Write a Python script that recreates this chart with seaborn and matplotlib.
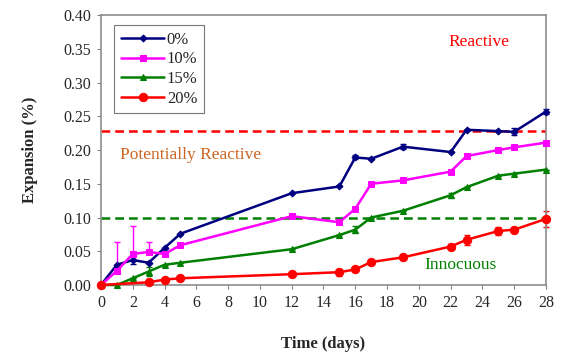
import matplotlib
matplotlib.use("Agg")
import matplotlib.pyplot as plt
import seaborn as sns
import pandas as pd

nan = float("nan")
days = [0, 1, 2, 3, 4, 5, 12, 15, 16, 17, 19, 22, 23, 25, 26, 28]
series_names = ["0%", "10%", "15%", "20%"]
exp_0 = [0.000, 0.030, 0.037, 0.033, 0.055, 0.076, 0.136, 0.146, 0.189, 0.187,
         0.205, 0.197, 0.230, 0.228, 0.227, 0.257]
exp_10 = [0.000, 0.021, 0.046, 0.049, 0.046, 0.059, 0.102, 0.093, 0.113, 0.150,
          0.155, 0.168, 0.191, 0.200, 0.204, 0.211]
exp_15 = [0.000, 0.000, 0.010, 0.020, 0.030, 0.033, 0.053, 0.074, 0.082, 0.100,
          0.110, 0.133, 0.145, 0.162, 0.165, 0.171]
exp_20 = [0.000, nan, nan, 0.004, 0.008, 0.010, 0.016, 0.019, 0.023, 0.034,
          0.041, 0.057, 0.067, 0.080, 0.082, 0.098]
err_0 = [0, 0, 0.006, 0, 0, 0, 0, 0, 0.003, 0, 0.004, 0, 0, 0, 0.005, 0.004]
err_10_up = [0, 0.042, 0.041, 0.015, 0, 0, 0, 0, 0, 0, 0, 0, 0, 0, 0, 0]
err_15 = [0, 0, 0, 0.006, 0, 0, 0, 0, 0.005, 0, 0, 0.004, 0, 0, 0, 0]
err_20 = [0, 0, 0, 0, 0, 0, 0, 0.005, 0, 0, 0.004, 0.004, 0.007, 0.006, 0.004, 0.012]

reactive_limit = 0.228
innocuous_limit = 0.10

colors = {"0%": "#000080", "10%": "#FF00FF", "15%": "#008000", "20%": "#FF0000"}
markers = {"0%": "D", "10%": "s", "15%": "^", "20%": "o"}
sizes = {"0%": 3.5, "10%": 5, "15%": 4, "20%": 6}

df = pd.DataFrame({
    "Time": days * 4,
    "Expansion": exp_0 + exp_10 + exp_15 + exp_20,
    "Mix": [n for n in series_names for _ in days],
}).dropna()

sns.set_style("white")
plt.rcParams["font.family"] = ["Liberation Serif", "DejaVu Serif"]

fig = plt.figure(figsize=(5.66, 3.58), dpi=100)
ax = fig.add_axes([0.1784, 0.2039, 0.7863, 0.7541])

ax.axhline(reactive_limit, color="#FF0000", linestyle=(0, (3.5, 2)), linewidth=1.8, zorder=1)
ax.axhline(innocuous_limit, color="#008000", linestyle=(0, (3.5, 2)), linewidth=1.8, zorder=1)

# error bars (drawn under the lines)
eb_kw = dict(fmt="none", capsize=2.5, elinewidth=1, clip_on=False)
ax.errorbar(days, exp_0, yerr=err_0, ecolor=colors["0%"], **eb_kw)
ax.errorbar(days, exp_10, yerr=[[0] * len(days), err_10_up], ecolor=colors["10%"], **eb_kw)
ax.errorbar(days, exp_15, yerr=err_15, ecolor=colors["15%"], **eb_kw)
ax.errorbar(days, exp_20, yerr=err_20, ecolor=colors["20%"], **eb_kw)

for name in series_names:
    sub = df[df["Mix"] == name]
    sns.lineplot(data=sub, x="Time", y="Expansion", ax=ax, color=colors[name],
                 marker=markers[name], markersize=sizes[name], markeredgecolor=colors[name],
                 linewidth=1.8, label=name, zorder=3, clip_on=False)

ax.set_xlim(0, 28)
ax.set_ylim(0, 0.40)
ax.set_xticks(range(0, 29, 2))
ax.set_yticks([i * 0.05 for i in range(9)])
ax.set_yticklabels([f"{i * 0.05:.2f}" for i in range(9)])
ax.tick_params(axis="both", which="both", direction="out", length=3, width=0.8,
               color="#808080", labelsize=11.5, left=True, bottom=True, pad=4)
for side in ["left", "bottom", "top", "right"]:
    ax.spines[side].set_color("#8c8c8c")
    ax.spines[side].set_linewidth(1.2)

ax.set_xlabel("Time (days)", fontsize=12, fontweight="bold", labelpad=18)
ax.set_ylabel("Expansion (%)", fontsize=12, fontweight="bold", labelpad=18)

ax.text(23.8, 0.36, "Reactive", color="#FF0000", fontsize=12.5, ha="center", va="center")
ax.text(1.2, 0.193, "Potentially Reactive", color="#CC6622", fontsize=12.5, ha="left", va="center")
ax.text(22.6, 0.030, "Innocuous", color="#008000", fontsize=12.5, ha="center", va="center")

leg = ax.legend(loc="upper left", bbox_to_anchor=(0.03, 0.963), frameon=True, fancybox=False,
                fontsize=12, handlelength=2.6, handletextpad=0.15, borderpad=0.4,
                labelspacing=0.22, borderaxespad=0)
leg.get_frame().set_edgecolor("#555555")
leg.get_frame().set_linewidth(0.8)

fig.savefig("out.png", dpi=100)
